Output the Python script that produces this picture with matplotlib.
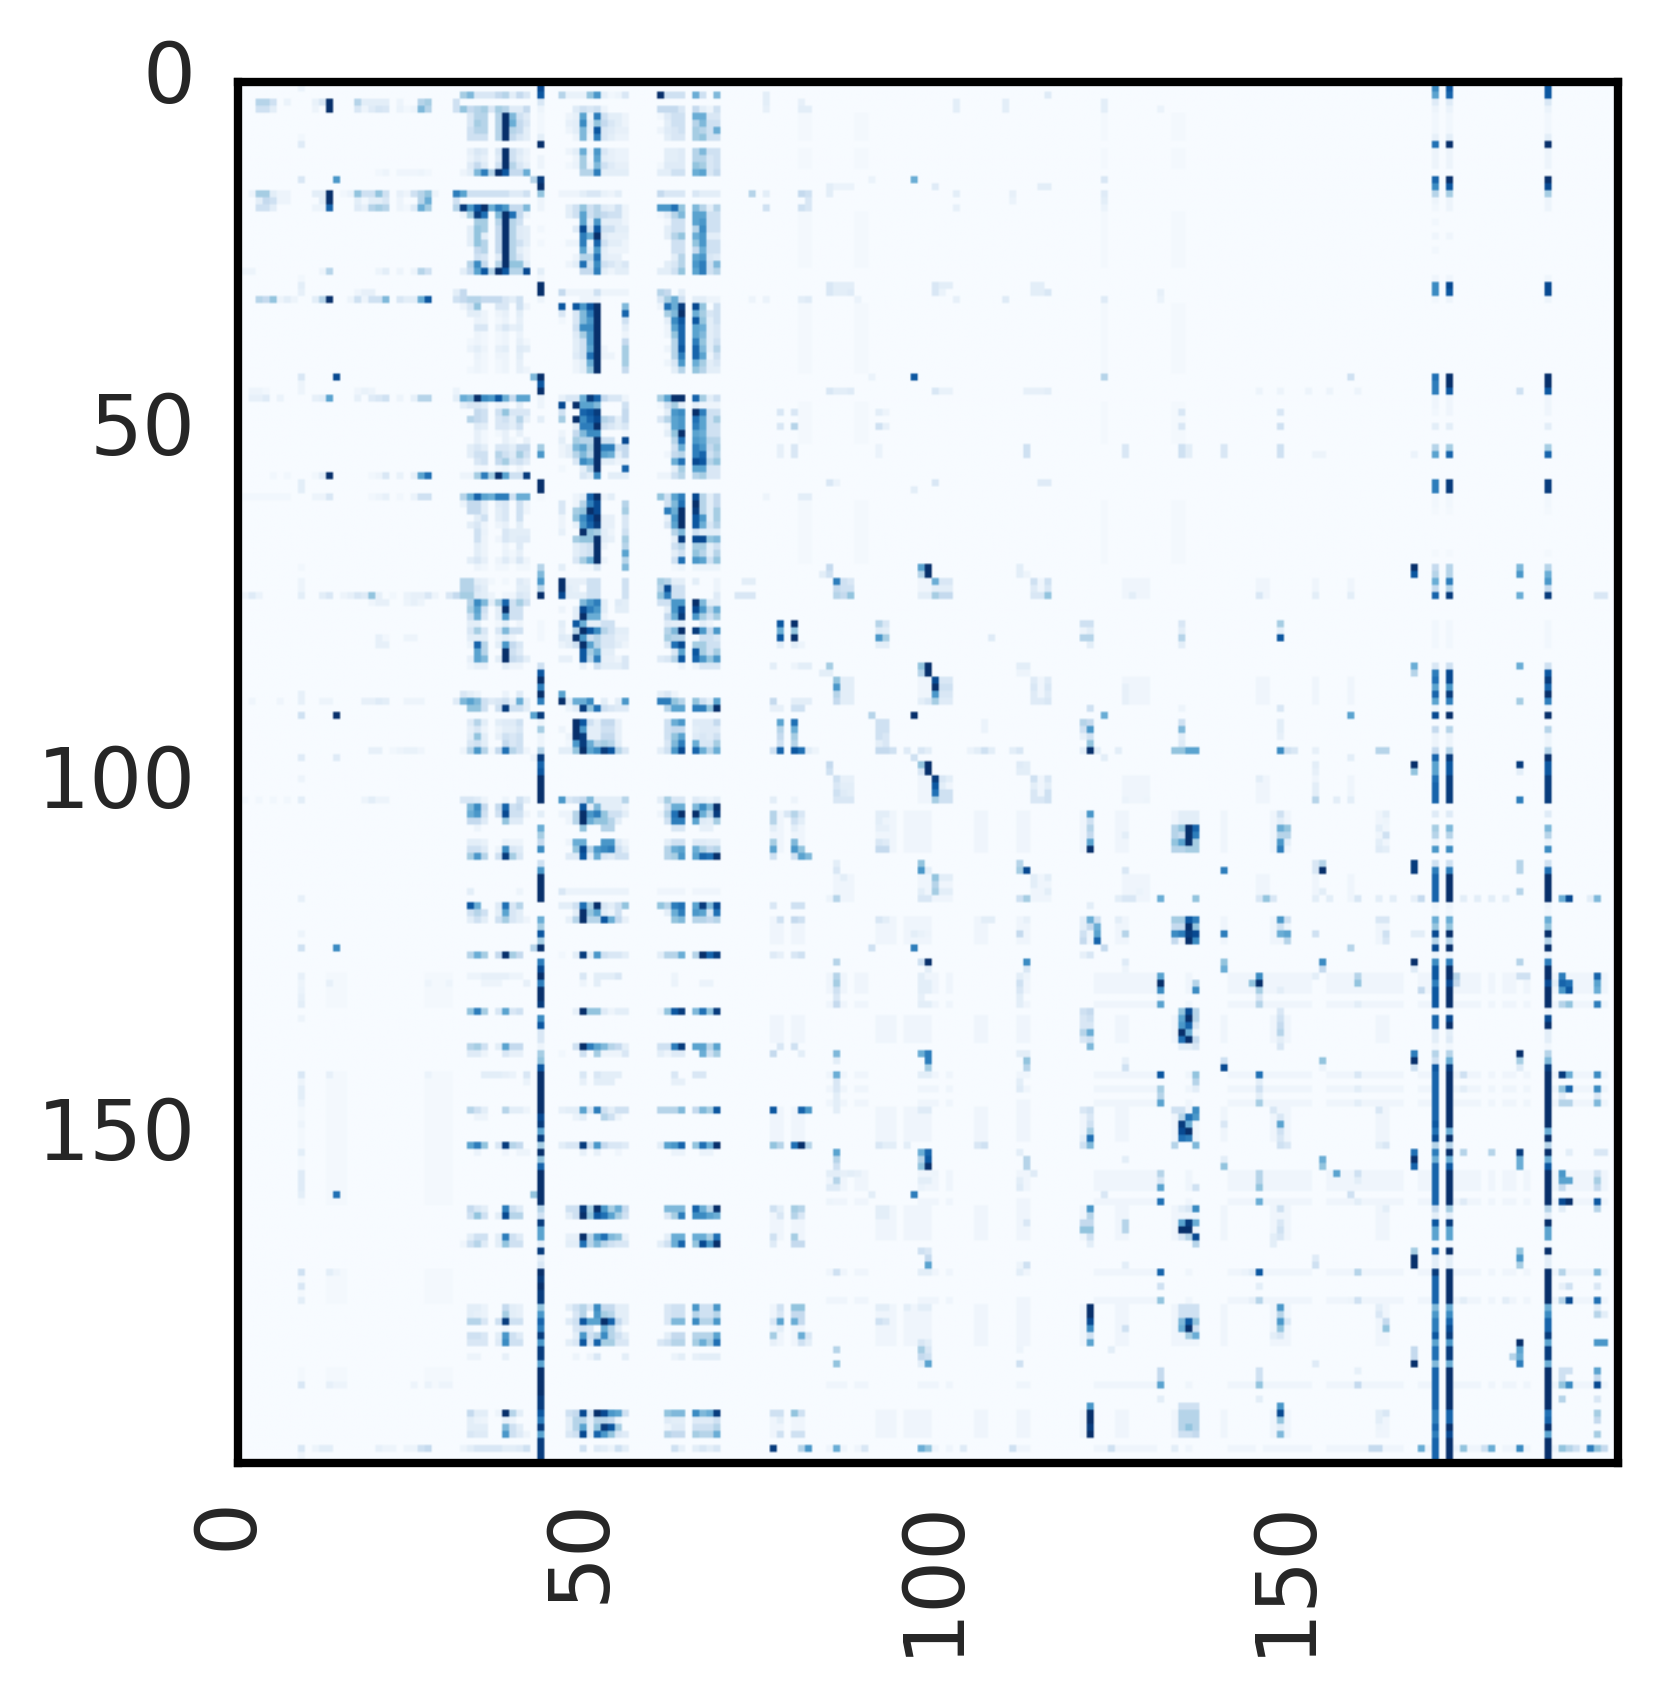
import matplotlib
matplotlib.use("Agg")
import matplotlib.pyplot as plt
from matplotlib.transforms import ScaledTranslation
import numpy as np

n_cells = 196
tick_values = [0, 50, 100, 150]

# the three dense column groups, values are percent of the colour range
block_cols = list(range(32, 42)) + list(range(46, 56)) + list(range(60, 69))

upper_rows = [2, 4, 5, 6, 7, 8, 10, 11, 12, 13, 16, 18, 19, 20, 21, 22, 23, 24, 25, 26, 27, 30, 31,
              32, 33, 34, 35, 36, 37, 38, 39, 40, 41, 45, 46, 47, 48, 49, 50, 51, 52, 53, 54, 55, 56,
              59, 60, 61, 62, 63, 64, 65, 66, 67, 68, 69]
upper_vals = [
    [35,45,15,15,15,25,30,10,25,15, 30,7,7,7,40,60,8,3,5,15, 100,20,20,20,0,50,20,0,45],
    [40,25,30,35,15,35,30,12,12,25, 0,0,12,20,15,20,5,0,0,0, 25,25,25,15,0,25,10,5,20],
    [0,15,30,30,0,30,100,45,20,12, 0,5,8,55,5,70,20,10,10,5, 3,12,20,20,0,50,50,15,15],
    [0,15,35,30,0,30,100,50,25,15, 0,8,10,65,10,40,25,15,10,5, 0,10,20,20,0,30,45,20,20],
    [0,20,30,30,0,30,100,30,25,10, 0,5,10,45,8,85,15,12,8,8, 5,12,15,20,0,35,30,20,50],
    [0,20,20,20,0,30,100,25,15,10, 0,0,5,45,5,70,15,10,6,6, 0,10,15,15,0,35,40,20,20],
    [0,8,15,12,0,15,100,20,12,6, 0,5,10,50,5,60,15,8,6,6, 0,10,10,12,0,30,45,20,20],
    [0,6,12,8,0,12,100,20,10,5, 0,0,5,35,3,55,10,8,6,6, 0,10,10,12,0,30,30,15,20],
    [0,12,25,12,0,20,100,30,15,8, 0,3,6,35,5,45,20,12,8,8, 3,12,12,12,0,40,35,15,20],
    [5,10,45,70,30,100,85,25,25,50, 0,0,0,30,30,70,10,10,10,10, 10,10,20,20,0,50,55,15,25],
    [55,20,20,20,20,20,20,12,12,20, 5,5,5,10,15,15,7,5,10,0, 25,15,15,15,0,15,10,10,10],
    [95,60,85,100,50,70,60,25,25,45, 0,10,20,40,20,30,12,10,20,5, 60,60,75,40,0,45,30,10,30],
    [5,35,95,75,0,45,100,75,25,5, 0,10,20,55,20,30,25,20,20,5, 3,10,30,45,0,55,55,20,20],
    [0,0,35,35,0,30,100,30,20,0, 0,0,0,55,10,60,10,10,10,5, 0,3,20,20,0,55,60,20,20],
    [0,10,40,35,0,25,100,30,12,10, 0,0,12,90,20,85,20,20,10,10, 0,10,20,20,0,30,65,20,20],
    [0,10,40,10,0,25,100,30,12,10, 0,0,0,70,50,100,12,8,8,8, 0,10,30,40,0,50,60,10,10],
    [0,10,40,30,0,25,100,30,20,10, 0,5,5,70,5,80,20,10,10,5, 0,0,20,20,0,40,60,20,20],
    [0,0,25,30,0,25,100,30,10,5, 0,0,0,55,10,60,10,5,5,5, 0,0,20,20,0,25,50,20,20],
    [0,0,20,15,0,12,100,30,15,5, 0,0,5,30,30,75,10,8,8,0, 0,0,10,30,0,55,60,15,12],
    [0,30,65,25,0,30,100,40,40,10, 0,5,10,75,20,65,20,15,10,15, 0,10,15,30,0,60,70,20,45],
    [10,25,55,85,30,100,85,30,30,90, 0,0,0,25,25,70,10,5,10,10, 10,10,20,40,0,55,70,20,30],
    [25,0,0,0,0,0,0,0,0,0, 25,5,5,5,5,20,5,5,5,5, 30,25,0,10,0,0,0,0,0],
    [25,30,30,25,25,25,15,10,20,0, 0,0,0,5,5,5,0,0,0,0, 15,35,50,20,0,10,10,5,5],
    [5,15,40,0,0,15,15,0,20,5, 85,0,85,60,85,100,0,0,0,45, 5,75,50,95,0,90,40,0,20],
    [0,10,10,5,0,5,8,0,10,0, 15,0,15,45,70,100,0,0,0,80, 0,35,45,100,0,50,35,15,20],
    [0,0,6,5,0,3,6,0,8,0, 3,0,15,45,60,100,0,0,0,20, 0,10,65,85,0,85,40,10,20],
    [0,0,15,15,0,8,15,8,10,0, 0,0,20,65,65,100,0,0,0,10, 0,5,55,80,0,55,50,10,15],
    [0,0,5,3,0,3,5,0,6,0, 0,0,12,35,60,100,0,0,0,5, 0,5,40,80,0,55,45,10,15],
    [0,3,5,3,0,3,5,0,8,3, 0,0,10,20,60,100,0,0,0,25, 0,0,30,80,0,70,40,10,20],
    [0,6,10,5,0,8,10,0,12,10, 0,0,10,20,55,100,4,0,0,35, 0,5,30,85,0,80,45,10,30],
    [0,0,6,3,0,5,5,0,10,0, 0,0,12,20,75,100,5,5,0,35, 0,0,30,70,0,80,55,5,20],
    [0,0,5,3,0,3,5,0,8,0, 0,0,5,10,50,100,0,0,0,35, 0,5,15,60,0,50,35,10,15],
    [0,3,5,3,0,3,5,0,8,5, 0,0,5,10,40,100,0,0,0,25, 0,0,10,30,0,40,30,10,10],
    [50,45,100,65,60,85,50,25,55,55, 8,15,15,50,95,80,25,15,15,5, 35,55,100,100,0,80,35,10,20],
    [10,15,15,10,0,5,5,0,10,0, 90,0,100,55,55,45,0,0,0,20, 3,20,35,10,0,10,5,5,5],
    [0,0,25,20,0,20,40,15,15,15, 20,0,0,80,85,95,0,0,0,25, 0,10,60,65,0,100,70,20,20],
    [0,30,25,20,0,15,20,10,30,8, 35,0,100,65,80,90,30,25,10,25, 15,30,55,60,0,75,55,20,35],
    [0,0,12,10,0,15,15,10,20,0, 0,0,10,70,70,100,20,15,10,15, 0,5,55,60,0,70,55,20,20],
    [0,0,8,3,0,3,8,0,8,0, 5,0,25,45,65,65,0,0,0,3, 0,10,40,100,0,55,50,20,20],
    [0,0,8,3,0,0,8,3,0,8, 10,0,35,30,30,100,20,20,0,90, 0,0,30,75,0,60,55,30,30],
    [0,10,15,10,0,15,15,10,25,25, 5,10,45,55,35,100,70,70,20,25, 0,0,20,50,0,70,60,25,35],
    [0,10,20,20,0,30,20,12,35,20, 5,10,30,45,30,100,55,50,10,25, 0,4,25,30,0,70,80,20,30],
    [0,0,15,20,0,25,35,15,20,12, 0,0,15,65,55,100,10,10,5,5, 0,0,50,75,0,90,85,30,40],
    [0,0,3,3,0,3,5,0,5,0, 3,0,0,10,30,100,0,0,0,80, 0,0,10,35,0,55,55,15,15],
    [5,5,35,70,35,100,55,20,20,95, 0,0,0,15,10,65,0,10,10,10, 5,5,20,30,0,30,35,15,15],
    [30,50,80,55,50,70,70,20,50,50, 0,0,5,10,80,100,5,10,0,0, 40,20,55,70,0,90,30,10,25],
    [6,25,25,10,0,12,15,0,20,5, 15,0,5,30,70,90,0,0,0,30, 0,20,45,75,0,100,30,10,25],
    [0,25,25,10,0,10,15,0,20,5, 15,0,35,40,100,90,0,0,0,35, 0,70,50,100,0,95,30,10,35],
    [0,0,10,20,0,10,15,0,20,0, 5,0,40,65,85,100,8,8,0,15, 0,8,60,100,0,85,60,10,35],
    [0,10,15,5,0,5,8,0,10,0, 5,0,8,60,80,95,8,8,0,15, 0,15,55,100,0,85,50,15,30],
    [0,0,20,6,0,0,15,10,10,10, 8,0,0,100,40,35,10,5,0,20, 0,0,30,45,0,20,10,10,10],
    [0,0,20,5,0,4,15,10,12,12, 0,0,35,40,40,100,10,8,0,35, 0,0,10,95,0,90,90,40,45],
    [0,0,10,5,0,0,5,0,12,0, 0,0,10,15,20,100,5,0,0,30, 0,0,20,30,0,35,35,10,20],
    [0,0,10,5,0,0,6,3,8,0, 0,0,10,15,20,100,0,0,0,55, 0,0,10,20,0,40,30,10,30],
    [0,10,15,8,0,5,12,5,15,5, 0,0,15,35,50,100,5,0,0,30, 0,0,20,75,0,60,55,20,40],
    [0,0,5,3,0,3,3,0,3,3, 10,0,0,3,3,15,0,0,0,45, 0,0,3,5,0,5,5,5,5],
]

middle_rows = [71, 72, 73, 74, 75, 76, 77, 78, 79, 80, 81, 82, 83, 87, 88, 89, 91, 92, 93, 94, 95,
               102, 103, 104, 105, 106, 108, 109, 110, 115, 117, 118, 119, 124, 127, 128, 132, 137, 138]
middle_vals = [
    [30,30,10,8,3,0,3,0,12,8, 100,8,8,8,20,20,0,0,0,20, 35,30,10,10,0,10,0,0,5],
    [30,30,15,10,0,0,0,0,10,10, 100,10,8,0,20,20,0,0,0,20, 30,90,20,20,0,0,0,0,5],
    [35,35,12,10,5,0,4,4,15,12, 90,10,10,10,20,20,0,0,0,20, 40,70,20,20,0,0,0,0,12],
    [0,30,65,45,10,35,80,20,35,20, 0,0,0,45,60,70,10,0,12,10, 20,20,60,60,0,100,45,10,10],
    [0,35,55,20,0,10,100,20,20,0, 5,0,10,90,70,60,10,0,10,10, 0,10,60,90,0,90,60,30,50],
    [0,20,50,15,0,10,60,20,20,0, 0,0,10,100,50,50,5,0,0,0, 0,25,50,95,0,60,35,20,35],
    [0,10,10,0,0,3,10,0,5,0, 10,0,85,50,10,10,20,20,0,0, 0,12,10,10,0,0,10,5,0],
    [0,15,35,15,0,15,45,20,20,0, 8,0,30,100,85,65,30,20,10,10, 0,30,45,100,0,95,60,25,60],
    [0,10,10,10,0,5,10,5,0,0, 12,10,100,60,20,30,15,15,8,8, 0,35,30,30,0,0,20,20,15],
    [0,5,80,30,0,10,60,25,15,0, 6,10,20,100,55,30,15,15,10,5, 0,15,75,90,0,35,35,20,20],
    [0,0,55,30,0,0,100,20,12,0, 0,0,0,85,35,50,10,10,0,0, 0,0,15,55,0,85,35,20,35],
    [0,8,55,45,0,10,100,25,20,10, 8,8,0,85,30,70,8,8,5,15, 12,15,30,85,0,80,60,40,60],
    [0,4,8,8,0,0,10,5,5,0, 0,0,0,8,0,20,10,10,10,15, 0,0,0,5,0,5,15,15,15],
    [15,10,6,0,0,0,6,0,12,0, 55,0,0,0,0,0,0,0,0,0, 10,15,5,0,0,0,0,0,0],
    [45,55,45,20,12,15,20,8,50,10, 100,10,50,50,65,0,10,0,10,60, 70,70,40,30,0,40,20,10,55],
    [0,40,40,20,0,20,95,20,20,10, 0,5,10,95,40,75,20,15,12,12, 0,30,55,55,0,70,70,40,100],
    [0,12,30,10,0,10,12,12,20,0, 0,0,100,85,20,10,25,25,8,0, 0,20,50,60,0,12,12,12,25],
    [0,8,15,5,0,5,10,10,15,0, 5,0,100,60,10,10,20,20,8,0, 0,20,25,25,0,10,12,12,12],
    [0,10,40,10,0,8,20,15,20,0, 0,5,100,95,10,10,25,25,8,0, 0,20,40,55,0,12,15,12,20],
    [0,15,20,10,0,0,25,15,20,0, 0,3,60,95,50,30,35,30,10,0, 0,15,45,70,0,50,15,15,35],
    [5,30,60,30,3,25,75,30,20,5, 10,10,40,100,55,65,95,85,30,15, 10,20,60,90,0,80,50,30,50],
    [15,15,12,5,0,0,5,0,20,10, 60,15,20,25,45,10,10,10,10,30, 10,35,15,15,0,12,8,5,10],
    [0,45,65,25,0,25,80,20,25,0, 0,0,0,85,10,45,10,10,10,5, 0,20,50,50,0,45,65,45,100],
    [0,50,60,20,0,20,90,20,20,5, 5,5,30,100,60,70,40,20,20,10, 5,30,75,100,0,100,50,30,95],
    [0,25,25,12,0,0,40,12,12,0, 0,5,30,100,50,40,40,30,10,0, 0,20,70,70,0,55,12,10,35],
    [0,0,5,0,0,0,0,0,0,0, 0,0,0,40,0,0,30,30,0,0, 0,0,15,15,0,0,8,8,0],
    [0,10,10,7,0,0,7,5,5,0, 0,5,50,50,0,0,60,60,12,5, 0,10,20,20,0,12,12,10,10],
    [0,20,20,12,0,5,65,15,12,0, 0,0,40,90,30,60,65,70,20,10, 0,30,50,55,0,50,35,25,30],
    [0,35,60,30,0,20,95,35,15,0, 0,12,12,85,10,50,15,12,20,20, 0,30,35,60,0,55,80,75,100],
    [0,10,0,0,0,0,0,0,5,0, 15,6,6,6,6,6,6,6,6,6, 4,4,4,4,0,4,4,4,4],
    [0,85,50,0,0,12,75,15,30,0, 10,10,20,75,35,100,15,10,20,40, 40,30,70,75,0,55,95,45,90],
    [0,20,30,20,0,10,55,15,10,0, 0,0,10,100,40,55,10,5,20,0, 0,10,50,70,0,60,55,15,75],
    [0,10,20,10,0,20,35,15,10,5, 0,8,30,100,30,30,85,50,25,8, 0,0,40,45,0,30,30,25,30],
    [0,30,50,35,0,25,100,35,25,0, 3,0,10,95,10,60,20,15,15,10, 10,30,30,50,0,30,100,80,95],
    [0,5,5,8,8,8,8,5,5,0, 0,0,0,15,0,10,10,10,15,0, 0,0,5,0,0,0,0,0,0],
    [0,0,0,5,5,5,0,0,0,8, 0,0,0,5,0,10,0,0,0,0, 0,0,6,0,0,0,6,6,0],
    [0,40,70,35,0,15,55,15,20,0, 0,0,8,100,40,40,12,5,10,10, 5,40,85,95,0,45,75,40,95],
    [0,30,35,20,0,10,55,25,25,0, 0,0,20,100,70,55,45,30,25,10, 20,20,70,95,0,55,55,30,55],
    [0,12,12,5,0,0,15,8,8,0, 3,0,0,20,0,35,5,5,5,15, 10,5,12,12,0,0,50,20,35],
]

lower_rows = [141, 142, 146, 147, 151, 152, 160, 161, 164, 165, 174, 175, 176, 177, 178, 179, 181,
              189, 190, 191, 192, 194]
lower_vals = [
    [0,0,0,10,10,10,8,6,0,15, 0,0,0,15,0,15,10,10,10,0, 0,0,15,0,0,15,15,0,0],
    [0,0,0,0,0,0,0,0,0,6, 0,0,0,8,0,10,10,10,0,0, 0,0,8,8,0,0,0,0,0],
    [0,30,20,10,0,0,30,10,10,5, 8,10,10,55,15,70,20,10,20,20, 30,30,30,45,0,25,45,35,85],
    [0,0,5,5,0,0,0,0,0,0, 0,0,6,10,0,0,30,20,5,0, 0,0,0,0,0,0,0,0,0],
    [0,55,70,40,0,15,95,30,25,0, 10,15,15,95,20,60,25,15,15,12, 10,55,60,80,0,40,75,50,100],
    [0,0,6,0,0,0,4,0,5,5, 0,0,0,8,0,8,0,0,4,0, 0,0,6,6,0,0,6,6,0],
    [0,25,15,10,0,0,70,20,12,0, 0,20,20,95,35,100,60,35,50,25, 0,45,45,45,0,80,50,30,100],
    [0,20,40,20,0,10,90,30,30,0, 0,10,20,100,40,85,75,55,35,20, 0,15,35,70,0,65,65,55,50],
    [0,10,20,20,0,10,70,20,12,0, 0,8,8,100,30,60,75,45,40,8, 0,10,50,50,0,50,50,35,75],
    [4,20,30,12,0,10,40,20,20,0, 0,10,10,75,30,45,30,20,15,15, 10,20,50,80,0,40,90,60,100],
    [0,10,10,6,0,0,25,10,8,0, 0,10,20,30,15,65,25,25,10,10, 0,15,20,20,0,60,20,20,60],
    [0,10,8,6,0,0,35,10,8,0, 0,0,15,30,0,60,35,30,10,10, 0,15,20,20,0,30,20,20,30],
    [0,30,30,15,0,20,95,20,20,0, 0,12,20,85,55,55,100,80,25,10, 0,15,45,45,0,65,30,30,60],
    [0,0,0,0,0,0,5,0,0,0, 0,0,15,20,15,0,50,30,10,0, 0,0,0,0,0,0,0,0,0],
    [0,20,20,15,0,10,60,20,12,0, 0,0,10,60,20,30,65,30,20,10, 0,10,25,25,0,30,30,30,55],
    [0,15,15,15,0,12,65,20,20,0, 0,10,15,85,15,80,35,35,15,15, 15,20,30,30,0,35,50,35,75],
    [0,5,5,0,0,0,8,0,0,0, 0,0,5,0,5,15,0,0,0,10, 0,0,6,10,0,8,10,10,10],
    [0,25,10,10,0,5,100,30,10,0, 0,20,25,90,15,100,90,60,55,20, 0,40,45,45,0,65,45,50,95],
    [0,10,6,5,0,0,8,5,0,0, 0,10,30,30,10,30,30,25,5,0, 0,12,10,10,0,12,12,12,20],
    [0,10,10,10,0,0,45,20,10,0, 0,10,30,55,10,40,95,85,35,0, 0,5,12,12,0,20,20,20,30],
    [0,15,12,12,0,0,60,20,12,5, 0,15,20,90,10,80,60,40,15,12, 0,30,25,25,0,35,30,30,50],
    [5,10,15,15,15,15,10,10,12,20, 0,0,0,20,0,12,10,5,20,10, 0,0,20,8,0,10,15,10,15],
]

# full height stripes
col43_vals = [
    90,90,85,15,5,3,3,3,10,100, 0,5,5,0,95,100,40,5,5,0, 0,3,0,3,0,0,0,10,3,100,
    100,5,0,0,0,0,0,0,0,0, 0,0,100,85,100,5,5,0,10,0, 0,0,35,60,0,0,0,100,100,2,
    0,0,0,0,0,0,0,0,0,30, 45,60,30,100,0,0,0,3,3,3, 0,0,0,20,85,100,70,100,70,0,
    95,5,35,5,5,30,95,80,85,100, 100,100,100,0,10,0,50,35,25,65, 0,20,60,100,100,100,100,0,0,50,
    35,85,35,100,0,70,90,100,70,100, 100,95,0,65,85,15,15,5,35,40, 85,100,100,100,100,100,100,90,95,55,
    95,35,100,40,80,100,100,100,100,100, 30,20,95,55,55,10,95,10,15,100, 95,100,95,95,40,60,80,70,95,60,
    95,95,55,100,100,100,100,95,95,85, 70,95,55,95,95,95,
]
col170_vals = [
    70,65,55,12,5,3,3,3,8,75, 5,5,5,0,80,65,30,5,3,0, 3,0,4,0,3,0,0,0,4,65,
    65,3,0,0,0,0,0,0,0,0, 0,0,75,70,70,4,4,3,0,10, 0,0,30,55,0,0,0,70,70,3,
    3,2,0,0,0,0,0,2,0,25, 30,50,25,80,0,0,0,3,3,3, 3,0,0,15,70,75,55,80,55,5,
    90,0,25,5,5,25,80,55,55,75, 80,80,80,0,12,0,35,30,5,60, 0,20,70,80,80,80,80,5,3,50,
    40,90,30,90,5,65,85,85,70,85, 85,85,5,80,80,10,10,3,30,20, 85,80,80,80,80,80,80,80,85,75,
    90,30,70,50,80,80,80,80,80,80, 25,10,85,55,55,3,80,10,10,95, 80,80,80,80,45,60,70,70,85,55,
    75,75,45,80,80,80,80,80,80,70, 70,80,70,80,80,80,
]
col172_vals = [
    85,85,80,12,6,3,3,3,10,100, 5,5,5,0,100,85,35,5,5,0, 0,0,4,0,0,0,0,0,4,90,
    85,5,0,0,0,0,0,0,0,0, 0,0,100,100,85,4,4,4,0,10, 0,0,35,80,0,0,0,95,95,3,
    3,2,0,0,0,0,0,2,0,30, 30,70,30,95,0,0,0,3,3,3, 3,0,0,20,90,90,60,95,70,5,
    100,0,30,5,5,30,95,85,85,95, 95,95,95,0,12,0,45,30,5,65, 0,20,70,100,100,100,100,5,3,50,
    40,100,30,100,5,70,100,100,90,100, 100,100,5,90,100,10,12,3,30,50, 95,100,100,100,100,100,100,100,100,50,
    100,30,100,50,85,100,100,100,100,100, 35,10,95,55,55,3,100,10,10,100, 100,100,100,100,50,65,80,90,95,60,
    95,95,50,100,100,100,100,100,100,80, 80,100,90,100,100,100,
]
col186_vals = [
    90,85,85,15,6,3,3,3,10,100, 5,5,5,0,100,90,35,5,5,0, 0,0,0,0,0,0,0,0,4,90,
    90,5,0,0,0,0,0,0,0,0, 0,0,100,100,85,4,4,4,0,10, 0,0,35,80,0,0,0,95,95,3,
    3,2,0,0,0,0,0,2,0,30, 50,60,25,95,0,0,0,3,3,3, 3,0,0,20,85,95,80,100,70,5,
    100,0,30,5,5,30,100,85,85,95, 95,95,95,0,12,0,45,30,5,65, 0,20,75,100,100,100,100,5,3,50,
    40,100,30,100,5,70,100,100,90,100, 100,100,5,90,100,10,10,3,30,45, 95,100,100,100,100,100,100,100,100,50,
    100,30,100,50,85,100,100,100,100,100, 30,10,100,55,55,3,100,10,10,100, 100,100,100,100,50,65,80,80,95,55,
    95,95,50,100,100,100,100,100,100,75, 80,100,55,100,100,100,
]

# faint column 9 running down the left part
col9_rows = [0, 1, 8, 9, 14, 28, 29, 30, 42, 43, 44, 57, 58, 69, 71, 72, 73, 87, 88, 90, 96, 99, 102, 116, 121, 123,
             127, 128, 129, 130, 131, 133, 141, 142, 143, 144, 145, 148, 152, 155, 156, 157, 158, 169, 171, 173, 185, 194, 195]
col9_vals = [6, 6, 3, 12, 15, 3, 10, 8, 15, 5, 5, 10, 10, 3, 5, 5, 10, 8, 8, 20, 12, 5, 10, 8, 5, 20,
             8, 5, 6, 8, 10, 5, 15, 5, 10, 10, 6, 5, 10, 12, 12, 12, 10, 20, 15, 10, 15, 15, 5]

# separate cells left of the blocks: row, columns, values
left_cells = [
    (3, [3,4,5,7,11,12,13,17,18,19,20,21,23,26,27,31], [30,30,20,6,7,15,100,30,10,10,10,10,5,30,35,20]),
    (4, [3,4,5,11,13,17,18,19,20,21,23,24,25,26,27,31], [20,20,10,5,100,15,5,12,17,15,6,3,5,45,30,20]),
    (13, [20,21,23,24,25,26,27], [3,5,4,4,4,5,3]),
    (14, [14,42], [60,30]),
    (16, [2,3,4,5,6,7,11,12,13,15,16,17,18,19,20,21,23,24,25,26,27,28,31], [5,35,35,10,5,5,10,10,100,3,6,40,20,20,40,20,8,5,20,30,40,5,70]),
    (17, [3,4,5,6,7,12,13,17,18,19,20,21,23,26,27,31], [10,25,20,5,5,10,100,10,3,10,10,15,5,30,50,20]),
    (18, [3,4,5,11,12,13,17,18,19,20,21,23,24,25,26,27,31], [20,20,10,5,5,80,12,8,30,35,30,5,3,12,50,35,30]),
    (27, [1,2,12,13,20,21,23,25,26,27], [5,5,5,30,5,10,5,5,30,20]),
    (30, [17,18,19,31], [4,8,8,10]),
    (31, [3,4,5,6,7,8,11,12,13,16,17,18,19,20,21,23,24,25,26,27,31], [30,25,40,5,10,5,10,30,100,5,20,5,20,20,45,15,10,10,50,85,20]),
    (42, [14,42], [90,45]),
    (44, [2,3,4,17,18,19,31], [5,5,3,4,7,5,6]),
    (45, [2,3,4,6,11,12,13,17,19,20,21,23,25,26,27,31], [8,8,12,6,8,10,55,8,12,15,20,5,8,30,30,10]),
    (56, [5,7,11,12,13,19,20,21,23,25,26,27], [3,3,3,10,100,3,5,15,7,8,55,75]),
    (59, [1,2,3,4,5,6,7,11,12,13,19,20,21,23,25,26,27], [3,3,3,3,3,3,3,5,5,15,3,5,8,3,6,20,20]),
    (73, [0,1,2,3,12,13,15,16,17,18,19,20,22,24,25,26,27,28,30,31], [5,5,12,6,10,15,5,8,15,12,40,8,3,6,8,8,15,5,15,25]),
    (74, [19,20,21,24,25,26], [4,8,8,5,8,5]),
    (79, [20,21,24,25], [8,3,5,5]),
    (80, [20,21], [8,8]),
    (88, [0,2,6,12,13,18,19,20,21,24,25,26,31], [3,4,4,5,5,8,8,12,10,5,5,5,12]),
    (90, [14,42], [100,55]),
    (95, [19,20,22,23,24,25,26], [8,8,3,5,7,7,4]),
    (96, [14,42], [12,5]),
    (102, [1,3,5,7,18,19,20,21], [3,3,3,3,5,10,5,5]),
    (123, [14,42], [65,30]),
    (128, [13,27,30], [8,5,5]),
    (158, [14,42], [75,40]),
    (141, [13,27], [8,6]),
    (169, [13,14], [10,5]),
    (185, [13,14,15,25,27,29,30], [8,5,5,5,6,5,5]),
    (194, [11,12,13,20,21,22,24,25,26,27], [5,10,10,8,5,5,5,5,20,25]),
]

# separate cells right of the blocks
right_cells = [
    (2, [75,115], [10,12]),
    (3, [75,80,102,109,123], [10,8,10,10,10]),
    (4, [75,80,81,102,109,123,131], [8,10,10,10,10,10,6]),
    (14, [90,96,123], [6,50,15]),
    (15, [84,85,86,87,99,114,115], [10,6,6,6,12,10,10]),
    (16, [73,75,80,81,84,102,110,123], [30,10,25,20,10,10,8,12]),
    (17, [81,110,123], [15,6,10]),
    (18, [75,80,81,102,123], [20,20,15,8,6]),
    (29, [84,85,86,87,99,100,101,113,114], [15,10,10,10,15,10,10,10,10]),
    (30, [84,85,86,87,99,100,113,114,115,131], [15,10,10,12,15,6,10,10,15,8]),
    (31, [73,75,80,81,88,102,109,123,131], [5,6,10,12,6,8,12,12,6]),
    (42, [90,96,123,158], [6,85,30,20]),
    (44, [84,85,86,87,99,100,101,112,113,114,115,145,148,152,155,159,182], [15,10,10,12,15,7,7,8,8,8,10,5,5,5,5,5,20]),
    (47, [77,79,91,92,134,148], [15,15,10,5,15,15]),
    (49, [77,79,91,92,134,148], [15,30,20,8,15,20]),
    (52, [77,79,91,112,126,134,135,140,148], [8,15,6,20,15,20,10,15,20]),
    (53, [77,79,91,112,126,134,135,140,148,153,154,167], [8,15,6,20,15,20,10,15,20,5,5,6]),
    (57, [84,85,99,114,115], [15,6,15,12,12]),
    (58, [96], [10]),
    (59, [75,80,81], [5,10,10]),
    (69, [84,97,98,111,167,182], [25,55,100,10,100,45]),
    (70, [83,84,97,98,111,112,167,182], [10,20,30,100,10,5,85,60]),
    (71, [72,73,85,86,87,99,100,101,113,115], [10,10,70,20,15,50,15,15,20,20]),
    (72, [85,86,87,99,100,101,113,115], [25,20,20,10,10,10,12,15]),
    (73, [71,72,73,85,86,87,97,98,99,100,101,113,114,115,127,145,153,158,182,193,194], [15,15,15,30,25,40,10,10,35,25,25,15,15,40,10,15,10,10,50,15,15]),
    (77, [77,79,91,92,121,120,134,148], [85,100,30,15,20,20,15,35]),
    (78, [77,79,91,92,121,120,134,148], [50,40,12,10,10,5,10,10]),
    (79, [77,79,91,92,107,121,120,134,148], [85,100,60,35,12,30,30,30,85]),
    (80, [77,79,80,91,92,121,134], [10,10,5,10,10,10,10]),
    (83, [76,79,80,81,84,97,98,111,112,167,182], [10,5,10,10,35,40,100,10,10,50,50]),
    (84, [83,84,97,98,111,112,167], [10,10,30,100,5,5,30]),
    (85, [85,86,87,99,100,101,113,115], [40,10,10,90,15,15,12,12]),
    (86, [85,86,87,99,100,101,113,115,126], [60,10,10,100,20,20,15,15,8]),
    (87, [85,86,87,99,100,101,113,115,126], [30,10,10,60,15,15,12,12,8]),
    (88, [76,79,80,81,85,86,87,97,98,99,100,101,113,114,115,126,182], [25,10,10,10,25,10,10,10,15,35,12,12,12,12,15,8,35]),
    (89, [76,77,79,80,121,134,148], [8,8,20,20,20,5,15]),
    (90, [90,96,123,158], [30,100,50,55]),
    (91, [77,79,91,92,106,121,120,134,148], [55,75,20,20,6,25,30,20,10]),
    (92, [77,79,91,92,106,121,120,134,148], [30,50,20,20,6,60,20,45,10]),
    (93, [77,79,91,92,121,120,134,148], [25,35,20,15,20,8,10,8]),
    (94, [77,79,91,92,121,134], [20,30,10,15,40,12]),
    (95, [76,77,79,80,81,82,91,92,93,95,97,98,104,105,106,107,110,111,120,121,122,125,133,134,135,136,148,149,150,153,162,163],
     [20,80,85,75,10,5,25,25,20,12,15,10,6,10,20,10,10,15,10,100,10,10,40,40,55,55,65,20,15,8,30,30]),
    (96, [96,123,158], [20,10,10]),
    (97, [84,97,98,111,112,153,167,182], [25,40,100,12,10,10,100,95]),
    (98, [84,97,98,111,112,153,167,182], [20,15,100,10,10,8,40,10]),
    (99, [85,86,87,99,100,101,113,115,145], [20,8,8,95,15,10,20,15,10]),
    (100, [85,86,87,99,100,113,115,153], [15,10,10,85,10,10,10,10]),
    (101, [85,86,87,99,100,101,113,115,153], [20,12,10,75,20,20,15,20,10]),
    (102, [76,79,85,86,87,99,100,101,113,114,115,126,129,153,156,158,182], [10,5,15,15,15,35,20,20,15,15,20,6,5,30,10,10,70]),
    (104, [76,78,79,80,91,92,121,134,135,136,148,163], [30,15,30,15,10,10,60,10,10,10,20,10]),
    (105, [76,79,80,91,92,121,134,135,136,148,163], [30,20,10,10,5,20,10,10,10,10,5]),
    (106, [76,79,91,92,121,133,134,135,136,148,149,162], [10,10,8,8,30,30,40,100,80,50,40,10]),
    (107, [121,126,133,134,135,136,148,149,163], [25,10,30,25,100,70,30,30,20]),
    (108, [76,79,91,92,121,133,134,135,136,148,149,162], [35,45,15,12,55,40,55,100,35,60,10,10]),
    (109, [76,79,80,91,92,121,133,134,135,136,148,162,163], [55,60,40,25,25,100,30,30,35,35,70,12,10]),
    (110, [76,79,80,81], [20,20,55,45]),
    (111, [85,97,111,153,154,167,182], [10,40,30,15,30,95,30]),
    (112, [85,97,98,111,112,126,140,153,154,167,182], [15,60,10,35,90,15,70,15,100,95,30]),
    (113, [86,99,100,101,113,115], [10,40,10,10,10,10]),
    (114, [99,113], [30,10]),
    (115, [97,99,100,101,115,128,154,182], [10,35,10,10,10,6,10,30]),
    (116, [84,85,97,98,111,112,125,126,127,131,136,145,146,147,153,155,159,162,164,167,168,174,176,178,180,188,189,192,193],
     [5,30,15,15,20,35,10,15,15,50,40,15,40,15,10,10,15,10,10,8,25,10,10,10,10,50,90,10,45]),
    (117, [76,79,80,121], [15,20,20,10]),
    (119, [77,79,80,91,92,106,107,112,120,121,122,125,133,134,135,136,148,149,162,163],
     [20,25,20,15,10,10,10,8,10,50,20,10,35,35,85,70,60,20,15,15]),
    (120, [120,121,122,133,134,135,136,148], [10,25,50,25,25,100,40,20]),
    (121, [96,97,98,111,120,121,122,126,133,134,135,136,140,148,149,153,163,167,168],
     [10,7,5,25,20,5,55,30,65,70,95,90,70,50,55,20,20,10,10]),
    (122, [120,122,133,135,136,149,163], [25,80,25,100,65,30,15]),
    (123, [90,96,123,158], [20,70,25,30]),
    (124, [76,77,79,80,120,121], [12,8,15,20,8,15]),
    (125, [85,97,98,112,126,140,154,167,182], [30,20,100,65,12,40,65,100,30]),
    (126, [98,112,126,140,154,167], [10,15,5,50,25,12]),
    (127, [85,97,111,112,131,145,153,159,173,182,183,188,193], [30,10,10,5,55,65,10,30,30,20,20,70,80]),
    (128, [85,97,98,111,131,136,144,145,159,173,187,188,189,193], [35,10,10,20,100,30,40,100,40,25,10,80,75,55]),
    (129, [85,97,98,111,131,136,145,148,168,188,189,193], [20,10,10,15,65,65,35,10,25,60,85,50]),
    (130, [85,97,111,131,145], [15,8,10,5,15]),
    (131, [85,97,98,111,131,145,159,188,189,193], [25,10,10,10,55,30,10,30,40,70]),
    (132, [121,120,134,135,136,148], [25,20,40,90,30,15]),
    (133, [121,120,134,135,136,148], [20,15,55,100,30,20]),
    (134, [121,120,134,135,136,148], [15,15,60,80,15,25]),
    (135, [120,121,134,135,148], [30,50,100,50,30]),
    (136, [120,121,134,135,136,148], [15,20,75,100,25,10]),
    (137, [77,79,121,134,135,136,148], [15,20,45,10,10,15,15]),
    (138, [76,80,85,97,98,111,112,167,182], [25,10,45,50,70,10,10,70,100]),
    (139, [85,98,112,126,140,154,167,182], [10,70,40,8,20,40,100,35]),
    (140, [98,112,126,140,154,167,182], [35,30,20,90,5,20,12]),
    (141, [85,97,98,131,136,145,159,174,188,189,193], [50,10,10,85,40,75,15,20,95,50,65]),
    (142, [85,111,136,145], [15,10,30,10]),
    (143, [85,111,131,136,145,159,174,188,189,193], [15,12,35,10,20,10,10,40,80,65]),
    (144, [85,131,145,188,193], [10,30,10,10,15]),
    (145, [85,131,145,159,188,189,193], [10,55,35,10,30,30,45]),
    (146, [76,80,81,85,97,98,120,121,133,134,136,147,162], [85,80,60,10,12,12,15,20,20,20,65,15,15]),
    (147, [121,134,135,136,148], [15,30,75,60,15]),
    (148, [121,134,135,140,148], [20,95,50,15,55]),
    (149, [121,134,135,148], [35,90,100,20]),
    (150, [120,121,134,135,148], [10,75,75,70,15]),
    (151, [76,77,79,80,81,91,92,93,95,105,106,120,121,133,136,148,149,162,163], [40,30,75,100,30,15,10,10,10,15,20,20,45,30,45,20,15,10,15]),
    (152, [85,97,98,111,167,174,178,182,189,193,194], [55,50,80,10,75,30,30,95,10,15,15]),
    (153, [85,97,98,112,126,140,154,167,182], [30,30,85,30,10,10,50,100,50]),
    (154, [85,97,98,112,140,154,167,182], [20,40,100,30,40,40,80,50]),
    (155, [84,85,86,87,88,99,113,131,145,156,159,188,193], [10,10,8,10,8,5,12,30,30,55,20,60,20]),
    (156, [85,97,98,111,131,145,159,188,189,193], [30,10,10,10,15,30,10,55,55,35]),
    (157, [84,85,97,111,131,136,145,188,193], [12,12,6,12,55,20,40,25,25]),
    (158, [90,96,123,158], [10,70,15,20]),
    (159, [84,131,145,159,174,188,189,193], [5,75,50,10,12,90,100,85]),
    (160, [76,77,79,80,91,92,121,134,135,136,148,163,188,193], [20,10,35,30,10,10,60,10,15,65,20,10,10,30]),
    (161, [77,79,80,91,92,121], [15,30,15,10,10,30]),
    (162, [112,121,120,126,134,135,136,148], [15,25,25,30,55,95,50,15]),
    (163, [121,120,126,134,135,148], [40,40,30,100,100,20]),
    (164, [76,79,121,134,135,136,147,148], [20,35,20,15,30,90,10,15]),
    (165, [76,79,80,121,136,147], [12,25,25,10,30,10]),
    (166, [97,98,167,182], [20,15,35,40]),
    (167, [98,153,167,182], [25,12,100,60]),
    (168, [98,111,112,126,153,167,182], [55,5,20,10,20,100,35]),
    (169, [85,97,98,111,131,143,144,145,159,188,193], [20,10,10,10,80,6,10,85,30,30,45]),
    (171, [131,145,188,189,193], [20,10,8,20,15]),
    (173, [131,144,145,158,159,174,180,188,189,193], [40,8,30,5,20,10,10,30,90,75]),
    (174, [77,79,80,91,92,95,97,98,121,134,135,136,148,162,193], [20,40,40,10,10,10,10,10,100,20,20,20,60,10,10]),
    (175, [77,79,80,121,134,135,136,148,162,193,194], [15,25,25,100,20,20,20,30,15,30,10]),
    (176, [76,77,79,80,91,92,121,134,135,136,148,149,163], [15,55,50,25,20,15,90,45,85,40,60,15,25]),
    (177, [77,121,126,134,135,136,148,163], [10,65,20,50,100,20,40,40]),
    (178, [76,80,81,121,135,136,147,148], [35,50,15,20,35,50,10,15]),
    (179, [76,80,81,97,98,121,182,193,194], [8,20,10,15,10,55,100,60,60]),
    (180, [85,97,98,111,124,167,182], [30,35,15,5,10,25,55]),
    (181, [97,98,167,181,182], [25,20,25,30,50]),
    (182, [85,97,98,111,153,167,182], [40,10,55,20,12,100,70]),
    (183, [131,145,159,188,189,193], [25,20,8,20,20,55]),
    (184, [131,145,188,193], [25,20,20,25]),
    (185, [131,145,159,188,189,193], [55,40,25,40,65,90]),
    (187, [131,145,188,193], [10,10,30,15]),
    (188, [121,134,135,136,148], [60,20,20,20,60]),
    (189, [76,77,79,80,121,134,135,136,148,162,163,193], [20,20,40,20,100,30,30,30,90,10,15,35]),
    (190, [77,121,134,135,136,148,162,193], [10,100,30,30,30,40,10,25]),
    (191, [121,134,135,136,148,162], [95,30,40,30,10,5]),
    (192, [77,79,80,121,134,135,136,148,193], [20,20,20,100,20,20,25,45,35]),
    (194, [76,80,81,85,89,97,98,103,110,124,133,161,162,168,174,177,178,182,188,189,190,192,193,194],
     [95,30,60,50,15,50,40,12,20,20,10,25,25,50,40,20,50,65,40,30,20,70,40,25]),
]

# very pale wash seen behind the marks: rows, columns, value
wash_rows_a = [127, 128, 129, 131, 141, 143, 145, 155, 156, 157, 159, 169, 173, 185, 194]
wash_cols_a = [84, 85, 86, 88, 89, 97, 98, 99, 101, 111, 112, 122, 123, 124, 125, 126, 127, 128, 129, 130, 135, 141, 142, 143,
               144, 146, 147, 148, 149, 150, 151, 152, 155, 156, 157, 158, 159, 160, 161, 162, 163, 164, 165, 168, 169,
               173, 174, 175, 176, 178, 180, 181, 183, 187, 188, 189, 190, 191, 192, 193, 194]
wash_rows_b = [104, 105, 106, 107, 108, 109, 119, 120, 121, 122, 133, 134, 135, 136, 146, 147, 148, 149, 150, 160, 161,
               162, 163, 164, 174, 175, 176, 177, 178, 179, 189, 190, 191, 192]
wash_cols_b = [76, 77, 79, 80, 91, 92, 93, 95, 96, 97, 98, 105, 106, 111, 112, 120, 121, 125, 126, 133, 134, 135, 136, 140,
               147, 148, 149, 162, 163]
wash_rows_c = [5, 6, 7, 8, 10, 11, 12, 19, 20, 21, 22, 23, 24, 25, 26, 32, 33, 34, 35, 36, 37, 38, 39, 40, 41, 46, 47, 48,
               49, 50, 51, 60, 61, 62, 63, 64, 65, 66, 67, 68]
wash_cols_c = [80, 81, 88, 89, 123, 133, 134]
wash_rows_d = [71, 72, 73, 85, 86, 87, 88, 99, 100, 101, 102, 113, 114, 115, 116]
wash_cols_d = [85, 86, 87, 97, 98, 99, 100, 101, 113, 114, 115, 126, 127, 128, 129, 145, 146, 153, 158]
wash_rows_e = list(range(141, 160)) + list(range(169, 174)) + list(range(183, 186)) + list(range(127, 132))
wash_cols_e = [9, 13, 14, 15, 27, 28, 29, 30]
wash_vals = [4, 4, 2, 4, 2]

# colour matrix, 0 is background
matrix = np.zeros((n_cells, n_cells))

for rows, cols, v in zip([wash_rows_a, wash_rows_b, wash_rows_c, wash_rows_d, wash_rows_e],
                         [wash_cols_a, wash_cols_b, wash_cols_c, wash_cols_d, wash_cols_e], wash_vals):
    sub = np.ix_(rows, cols)
    matrix[sub] = np.maximum(matrix[sub], v)

for rows, vals in [(upper_rows, upper_vals), (middle_rows, middle_vals), (lower_rows, lower_vals)]:
    for r, row_vals in zip(rows, vals):
        matrix[r, block_cols] = row_vals

for r, cols, vals in left_cells + right_cells:
    matrix[r, cols] = vals

matrix[col9_rows, 9] = col9_vals
matrix[:, 43] = col43_vals
matrix[:, 170] = col170_vals
matrix[:, 172] = col172_vals
matrix[:, 186] = col186_vals

fig = plt.figure(figsize=(1661 / 300, 1702 / 300), dpi=300)
ax = fig.add_axes([237.5 / 1661, (1702 - 1464) / 1702, 1380 / 1661, 1381 / 1702])

# repeat each cell so bilinear only softens the cell borders a little
soft = np.kron(matrix, np.ones((3, 3)))
ax.imshow(soft / 100, cmap="Blues", vmin=0, vmax=1, interpolation="bilinear", aspect="auto",
          extent=(-0.5, n_cells - 0.5, n_cells - 0.5, -0.5))
ax.set_xlim(0, n_cells)
ax.set_ylim(n_cells, 0)

ax.set_xticks(tick_values)
ax.set_yticks(tick_values)
ax.set_xticklabels(tick_values, rotation=90)
ax.tick_params(length=0, labelsize=20, labelcolor=".15")
ax.tick_params(axis="x", pad=8)
ax.tick_params(axis="y", pad=10)

# labels sit a bit before their tick in the original
x_shift = ScaledTranslation(-9 / 300, 0, fig.dpi_scale_trans)
y_shift = ScaledTranslation(0, 12 / 300, fig.dpi_scale_trans)
for lab in ax.get_xticklabels():
    lab.set_transform(lab.get_transform() + x_shift)
for lab in ax.get_yticklabels():
    lab.set_transform(lab.get_transform() + y_shift)

for s in ax.spines.values():
    s.set_linewidth(2.0)
    s.set_color("black")

fig.savefig("out.png", dpi=300)
